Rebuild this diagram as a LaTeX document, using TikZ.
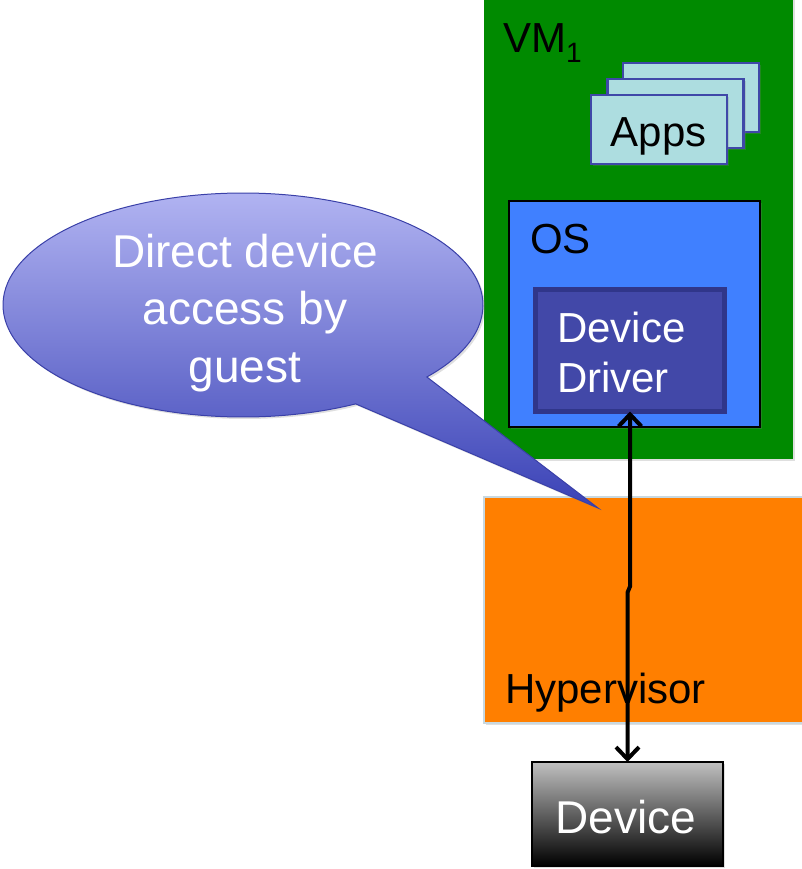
\documentclass[tikz,border=0pt]{standalone}
\usepackage{fontspec}
\setmainfont{Liberation Sans}
\usetikzlibrary{arrows.meta,shadows,calc}
\definecolor{vmgreen}{RGB}{0,138,0}
\definecolor{appsfill}{RGB}{173,221,224}
\definecolor{appsline}{RGB}{63,72,168}
\definecolor{osblue}{RGB}{64,128,255}
\definecolor{drvfill}{RGB}{66,72,168}
\definecolor{drvline}{RGB}{48,54,138}
\definecolor{hvorange}{RGB}{255,127,0}
\definecolor{hvline}{RGB}{200,216,224}
\definecolor{calltop}{RGB}{182,184,244}
\definecolor{callbot}{RGB}{58,66,182}
\definecolor{callline}{RGB}{58,64,168}
\definecolor{devtop}{RGB}{192,192,192}
\begin{document}
\begin{tikzpicture}[x=1pt,y=-1pt,
  box/.style={rectangle, inner sep=0pt, outer sep=0pt},
  shad/.style={drop shadow={shadow xshift=2pt, shadow yshift=-2pt, opacity=0.25}},
  lbl/.style={inner sep=0pt, outer sep=0pt, anchor=base west, font=\fontsize{42}{50}\selectfont},
  appcard/.style={box, fill=appsfill, draw=appsline, line width=2.5pt, minimum width=136pt, minimum height=69pt, shad},
  conn/.style={line width=4pt, {Straight Barb[length=12pt,width=23pt]}-{Straight Barb[length=12pt,width=23pt]}}]
\useasboundingbox (0,0) rectangle (802,869);

% VM box
\node[box, fill=vmgreen, minimum width=309pt, minimum height=464pt, shad] (vm) at (638.5,227) {};
\node[lbl] (vmlabel) at (503,53) {VM\raisebox{-10pt}{\fontsize{28}{30}\selectfont 1}};

% Apps stack
\node[appcard] (app3) at (691,97.5) {};
\node[appcard] (app2) at (675.5,113.5) {};
\node[appcard] (app1) at (659,129.5) {};
\node[lbl, anchor=base] (appslabel) at (658.5,147) {Apps};

% OS
\node[box, fill=osblue, draw=black, line width=2pt, minimum width=251pt, minimum height=226pt, shad] (os) at (634.5,314) {};
\node[lbl] (oslabel) at (530,253) {OS};

% Device driver
\node[box, fill=drvfill, draw=drvline, line width=5pt, minimum width=189pt, minimum height=122pt] (driver) at (630,350.5) {};
\node[lbl, anchor=north west, align=left, text=white] (drvlabel) at (557,312) {Device\\Driver};

% Hypervisor
\node[box, fill=hvorange, draw=hvline, line width=1.5pt, minimum width=328pt, minimum height=226pt, shad] (hv) at (648,610) {};
\node[lbl] (hvlabel) at (505,703) {Hypervisor};

% Device
\node[box, top color=devtop, bottom color=black, draw=black, line width=1.5pt, minimum width=191pt, minimum height=104pt, shad] (device) at (627.5,814) {};
\node[lbl, anchor=base, text=white, font=\fontsize{46}{52}\selectfont] (devlabel) at (626,833) {Device};

% Callout
\path[shad, top color=calltop, bottom color=callbot, draw=callline, line width=1pt]
  ($(243,305)+(62:240 and 112)$) -- (598,508) -- ($(243,305)+(40:240 and 112)$)
  arc[start angle=40, end angle=-298, x radius=240, y radius=112] -- cycle;
\node[inner sep=0pt, outer sep=0pt, anchor=north, align=center, text=white, font=\fontsize{46}{57.5}\selectfont] (calltext) at (245,234) {Direct device\\access by\\guest};

% Connector
\draw[conn] (driver.south) -- ++(0,175) -- ++(-2.5,6) -- (device.north);
\end{tikzpicture}
\end{document}
